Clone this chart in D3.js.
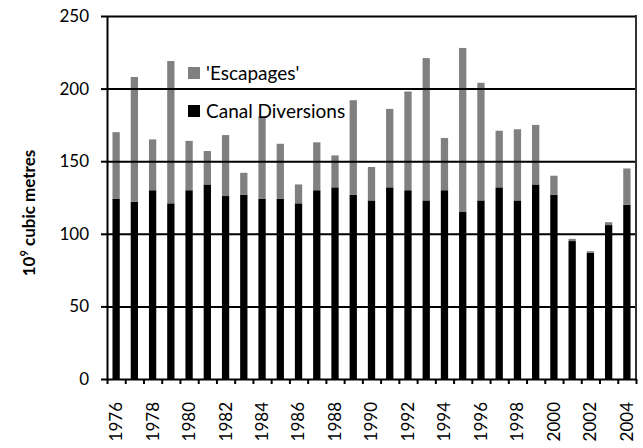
<!DOCTYPE html>
<html>
<head>
<meta charset="utf-8">
<script src="https://cdnjs.cloudflare.com/ajax/libs/d3/7.8.5/d3.min.js"></script>
<style>
  body { margin:0; background:#fff; }
  svg text { font-family: Lato, "Open Sans", sans-serif; fill:#000; }
</style>
</head>
<body>
<svg id="chart" width="643" height="448"></svg>
<script>
// data (10^9 cubic metres)
var years = [1976,1977,1978,1979,1980,1981,1982,1983,1984,1985,1986,1987,1988,1989,1990,
             1991,1992,1993,1994,1995,1996,1997,1998,1999,2000,2001,2002,2003,2004];
var canalDiversions = [124,122,130,121,130,134,126,127,124,124,121,130,132,127,123,
                       132,130,123,130,115,123,132,123,134,127,95,87,106,120];
var escapages = [46,86,35,98,34,23,42,15,57,38,13,33,22,65,23,
                 54,68,98,36,113,81,39,49,41,13,1.5,1,2,25];
var yTicks = [0,50,100,150,200,250];
var seriesNames = ["Canal Diversions","'Escapages'"];
var seriesColors = ["#000000","#808080"];

var margin = {top:16, right:7, bottom:69, left:107};
var svg = d3.select("#chart");
var w = 643 - margin.left - margin.right;
var h = 448 - margin.top - margin.bottom;
var g = svg.append("g").attr("transform","translate("+margin.left+","+margin.top+")");

var rows = years.map(function(y,i){
  return {year:y, "Canal Diversions":canalDiversions[i], "'Escapages'":escapages[i]};
});
var stacked = d3.stack().keys(seriesNames)(rows);

var x = d3.scaleBand().domain(years).range([0,w]).paddingInner(0.6).paddingOuter(0.3);
var xEdge = d3.scaleLinear().domain([0,years.length]).range([0,w]);
var y = d3.scaleLinear().domain([0,250]).range([h,0]);

//---------BARS
g.selectAll(".series").data(stacked).enter().append("g")
  .attr("class","series")
  .style("fill",function(d,i){return seriesColors[i];})
  .selectAll("rect").data(function(d){return d;}).enter().append("rect")
  .attr("x",function(d){return x(d.data.year);})
  .attr("width",x.bandwidth())
  .attr("y",function(d){return y(d[1]);})
  .attr("height",function(d){return y(d[0])-y(d[1]);});

//---------GRIDLINES (drawn over the bars)
g.append("g").attr("class","grid")
  .call(d3.axisLeft(y).tickValues(yTicks.slice(1)).tickSize(-w).tickFormat(""))
  .call(function(s){ s.select(".domain").remove(); })
  .selectAll("line").attr("stroke","#000").attr("stroke-width",2);

//---------RIGHT BORDER
g.append("line").attr("x1",w).attr("x2",w).attr("y1",y(250)-1).attr("y2",y(0))
  .attr("stroke","#333").attr("stroke-width",2);

//---------Y AXIS
var yAxis = g.append("g")
  .call(d3.axisLeft(y).tickValues(yTicks).tickSize(6).tickPadding(12).tickSizeOuter(0));
yAxis.select(".domain").attr("stroke","#000").attr("stroke-width",2);
yAxis.selectAll("line").attr("stroke","#000").attr("stroke-width",2);
yAxis.selectAll("text").style("font-size","17px");

//---------X AXIS (ticks between the bars)
var xTicks = g.append("g").attr("transform","translate(0,"+h+")")
  .call(d3.axisBottom(xEdge).tickValues(d3.range(years.length+1)).tickSize(5).tickFormat("").tickSizeOuter(0));
xTicks.select(".domain").attr("stroke","#000").attr("stroke-width",2);
xTicks.selectAll("line").attr("stroke","#000").attr("stroke-width",2);

var xLabels = g.append("g").attr("transform","translate(0,"+h+")")
  .call(d3.axisBottom(x).tickValues(years.filter(function(d){return d%2==0;})).tickSize(0));
xLabels.select(".domain").remove();
xLabels.selectAll("text")
  .attr("transform","rotate(-90)")
  .attr("x",-23).attr("y",0).attr("dy","0.35em")
  .style("text-anchor","end")
  .style("font-size","17px");

//---------Y TITLE
var title = svg.append("text")
  .attr("transform","translate(35,"+213+") rotate(-90)")
  .style("text-anchor","middle")
  .style("font-size","17px")
  .style("font-weight","bold");
title.append("tspan").text("10");
title.append("tspan").attr("dy","-7").style("font-size","11px").text("9");
title.append("tspan").attr("dy","7").text(" cubic metres");

//---------LEGEND
var legendItems = [seriesNames[1],seriesNames[0]];
var legend = svg.selectAll(".legend").data(legendItems).enter().append("g")
  .attr("class","legend")
  .attr("transform",function(d,i){return "translate(188,"+(67+i*38)+")";});
legend.append("rect").attr("width",12).attr("height",12)
  .style("fill",function(d){return seriesColors[seriesNames.indexOf(d)];});
legend.append("text").attr("x",18).attr("y",13)
  .style("font-size","19px")
  .text(function(d){return d;});
</script>
</body>
</html>
